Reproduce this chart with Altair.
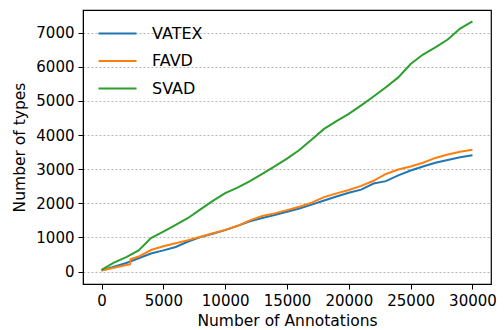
import altair as alt
import pandas as pd

x_vals = [0, 1000, 2000, 3000, 4000, 5000, 6000, 7000, 8000, 9000, 10000,
          11000, 12000, 13000, 14000, 15000, 16000, 17000, 18000, 19000, 20000,
          21000, 22000, 23000, 24000, 25000, 26000, 27000, 28000, 29000, 30000]

vatex = [30, 140, 250, 390, 530, 620, 720, 880, 1010, 1110, 1215,
         1340, 1470, 1570, 1655, 1750, 1850, 1960, 2080, 2200, 2310,
         2400, 2580, 2650, 2820, 2960, 3080, 3190, 3270, 3350, 3410]

favd_x = [0, 1000, 2000, 2300, 2350, 3000, 4000, 5000, 6000, 7000, 8000, 9000, 10000,
          11000, 12000, 13000, 14000, 15000, 16000, 17000, 18000, 19000, 20000,
          21000, 22000, 23000, 24000, 25000, 26000, 27000, 28000, 29000, 30000]
favd = [30, 110, 190, 210, 360, 440, 630, 740, 830, 920, 1020, 1120, 1220,
        1340, 1500, 1630, 1705, 1800, 1900, 2020, 2180, 2290, 2390,
        2510, 2660, 2860, 2990, 3080, 3190, 3330, 3430, 3510, 3570]

svad = [50, 260, 420, 620, 980, 1170, 1370, 1570, 1820, 2070, 2300,
        2460, 2650, 2860, 3080, 3310, 3560, 3870, 4180, 4410, 4620,
        4870, 5130, 5400, 5690, 6080, 6360, 6570, 6800, 7120, 7330]

series = ["VATEX", "FAVD", "SVAD"]
colors = ["#1f77b4", "#ff7f0e", "#2ca02c"]
x_ticks = [0, 5000, 10000, 15000, 20000, 25000, 30000]
y_ticks = [0, 1000, 2000, 3000, 4000, 5000, 6000, 7000]

rows = []
for i, (xv, yv) in enumerate(zip(x_vals, vatex)):
    rows.append({"x": xv, "y": yv, "s": "VATEX", "o": i})
for i, (xv, yv) in enumerate(zip(favd_x, favd)):
    rows.append({"x": xv, "y": yv, "s": "FAVD", "o": i})
for i, (xv, yv) in enumerate(zip(x_vals, svad)):
    rows.append({"x": xv, "y": yv, "s": "SVAD", "o": i})
df = pd.DataFrame(rows)

font = "DejaVu Sans"

chart = alt.Chart(df).mark_line(strokeWidth=2).encode(
    x=alt.X("x:Q",
            scale=alt.Scale(domain=[-1500, 31500], nice=False, zero=False),
            axis=alt.Axis(title="Number of Annotations", values=x_ticks, grid=False,
                          format="d", labelFontSize=15, titleFontSize=15.5,
                          titleFontWeight="normal", labelColor="#000", titleColor="#000",
                          tickColor="#000", domainColor="#000", tickSize=5,
                          labelPadding=4, titlePadding=5, labelFont=font, titleFont=font)),
    y=alt.Y("y:Q",
            scale=alt.Scale(domain=[-365, 7665], nice=False, zero=False),
            axis=alt.Axis(title="Number of types", values=y_ticks, grid=True,
                          gridDash=[2, 2], gridColor="#999", gridWidth=0.7,
                          format="d", labelFontSize=15, titleFontSize=15.5,
                          titleFontWeight="normal", labelColor="#000", titleColor="#000",
                          tickColor="#000", domainColor="#000", tickSize=5,
                          labelPadding=4, titlePadding=8, labelFont=font, titleFont=font)),
    color=alt.Color("s:N", sort=series,
                    scale=alt.Scale(domain=series, range=colors),
                    legend=alt.Legend(title=None, orient="none", legendX=22, legendY=11,
                                      symbolType="M-1.7,0H1.7", symbolSize=500,
                                      symbolStrokeWidth=2, labelFontSize=16,
                                      labelFont=font, labelColor="#000",
                                      rowPadding=6.5, labelOffset=22)),
    order="o:Q",
).properties(
    width=408, height=274,
    autosize=alt.AutoSizeParams(type="none"),
    padding={"left": 75, "top": 2, "right": 5, "bottom": 46},
).configure_view(stroke="#000", strokeWidth=1.2)

chart.save("out.html", embed_options={"renderer": "svg", "actions": False})
